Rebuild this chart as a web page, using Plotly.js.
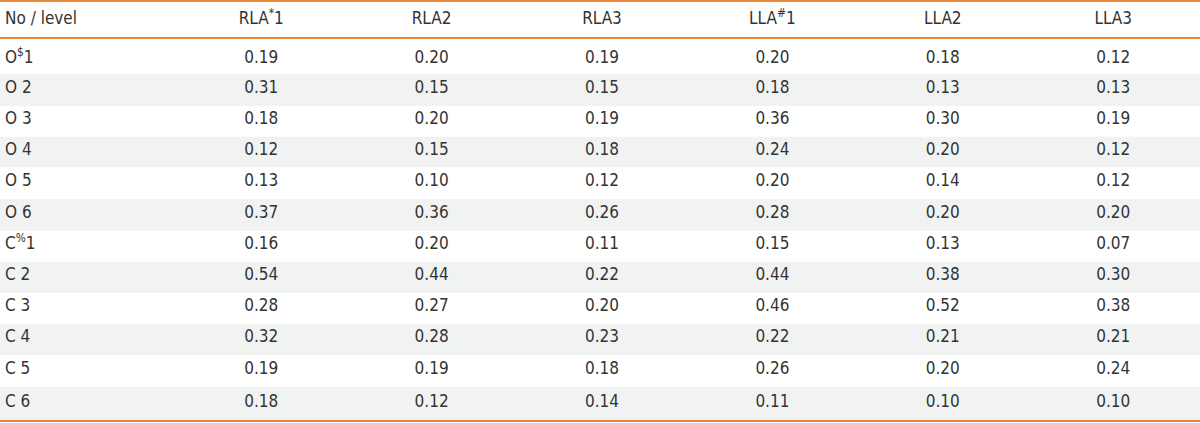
<!DOCTYPE html>
<html>
<head>
<meta charset="utf-8">
<script src="https://cdn.plot.ly/plotly-3.0.1.min.js"></script>
<style>html,body{margin:0;padding:0;background:#fff;}#chart{width:1200px;height:423px;}</style>
</head>
<body>
<div id="chart"></div>
<script>
var firstHeader = "No / level";
var headers = ["RLA<sup>*</sup>1", "RLA2", "RLA3", "LLA<sup>#</sup>1", "LLA2", "LLA3"];
var rowLabels = ["O<sup>$</sup>1", "O 2", "O 3", "O 4", "O 5", "O 6", "C<sup>%</sup>1", "C 2", "C 3", "C 4", "C 5", "C 6"];
var RLA1 = ["0.19", "0.31", "0.18", "0.12", "0.13", "0.37", "0.16", "0.54", "0.28", "0.32", "0.19", "0.18"];
var RLA2 = ["0.20", "0.15", "0.20", "0.15", "0.10", "0.36", "0.20", "0.44", "0.27", "0.28", "0.19", "0.12"];
var RLA3 = ["0.19", "0.15", "0.19", "0.18", "0.12", "0.26", "0.11", "0.22", "0.20", "0.23", "0.18", "0.14"];
var LLA1 = ["0.20", "0.18", "0.36", "0.24", "0.20", "0.28", "0.15", "0.44", "0.46", "0.22", "0.26", "0.11"];
var LLA2 = ["0.18", "0.13", "0.30", "0.20", "0.14", "0.20", "0.13", "0.38", "0.52", "0.21", "0.20", "0.10"];
var LLA3 = ["0.12", "0.13", "0.19", "0.12", "0.12", "0.20", "0.07", "0.30", "0.38", "0.21", "0.24", "0.10"];
var columns = [RLA1, RLA2, RLA3, LLA1, LLA2, LLA3];

// ---- layout geometry (pixels) ----
var W = 1200, H = 423;
var firstColW = 176, colW = 170.4;
var topLine = 1, headerLine = 38, bottomLine = 421;
var rowHeights = [36.3, 31.7, 30.7, 30.6, 32, 31.4, 31, 31, 31.3, 31, 31.7, 34.3];
var rowPadTop  = [8, 0, 0, 0, 0, 0, 0, 0, 0, 0, 0, 0];
var textLift = 1.5;

var rowTops = [];
var acc = headerLine;
rowHeights.forEach(function(h){ rowTops.push(acc); acc += h; });
var rowCenters = rowTops.map(function(t, i){
  return t + rowPadTop[i] + (rowHeights[i] - rowPadTop[i]) / 2 - textLift;
});

// x axis in column units: column j (1..6) centred at pixel firstColW + colW*(j-1) + colW/2
var x0pix = firstColW - colW / 2;
var xRange = [-x0pix / colW, (W - x0pix) / colW];
function xOfPix(p){ return (p - x0pix) / colW; }
// y axis in pixel units (reversed)
var yRange = [H, 0];

var fontFam = "'DejaVu Sans Condensed', 'Liberation Sans Narrow', 'DejaVu Sans', sans-serif";
var txtFont = {family: fontFam, size: 17, color: "#333333"};
var orange = "#e8873a";
var stripeColor = "#f1f3f3";

var traces = [];
function textTrace(xs, ys, texts, pos){
  return {type: "scatter", mode: "text", x: xs, y: ys, text: texts,
    textposition: pos, textfont: txtFont, hoverinfo: "skip",
    showlegend: false, cliponaxis: false};
}

// row labels (left-aligned)
traces.push(textTrace(rowLabels.map(function(){ return xOfPix(5); }), rowCenters, rowLabels, "middle right"));

// data columns
columns.forEach(function(col, j){
  traces.push(textTrace(col.map(function(){ return j + 1; }), rowCenters, col, "middle center"));
});

// header
var headerY = (topLine + headerLine) / 2;
traces.push(textTrace([xOfPix(5)], [headerY], [firstHeader], "middle right"));
traces.push(textTrace(headers.map(function(_, j){ return j + 1; }),
  headers.map(function(){ return headerY; }), headers, "middle center"));

var shapes = [];
rowTops.forEach(function(t, i){
  if (i % 2 === 1) {
    shapes.push({type: "rect", layer: "below", xref: "paper", yref: "y",
      x0: 0, x1: 1, y0: t, y1: t + rowHeights[i],
      fillcolor: stripeColor, line: {width: 0}});
  }
});
[topLine, headerLine, bottomLine].forEach(function(p){
  shapes.push({type: "line", xref: "paper", yref: "y", x0: 0, x1: 1,
    y0: p, y1: p, line: {color: orange, width: 2}});
});

var axisOff = {showgrid: false, zeroline: false, showticklabels: false, ticks: "", showline: false, fixedrange: true};
var layout = {
  width: W, height: H,
  margin: {l: 0, r: 0, t: 0, b: 0, pad: 0},
  paper_bgcolor: "#ffffff", plot_bgcolor: "#ffffff",
  showlegend: false,
  xaxis: Object.assign({range: xRange}, axisOff),
  yaxis: Object.assign({range: yRange}, axisOff),
  shapes: shapes
};

Plotly.newPlot("chart", traces, layout, {displayModeBar: false, staticPlot: true});
</script>
</body>
</html>
